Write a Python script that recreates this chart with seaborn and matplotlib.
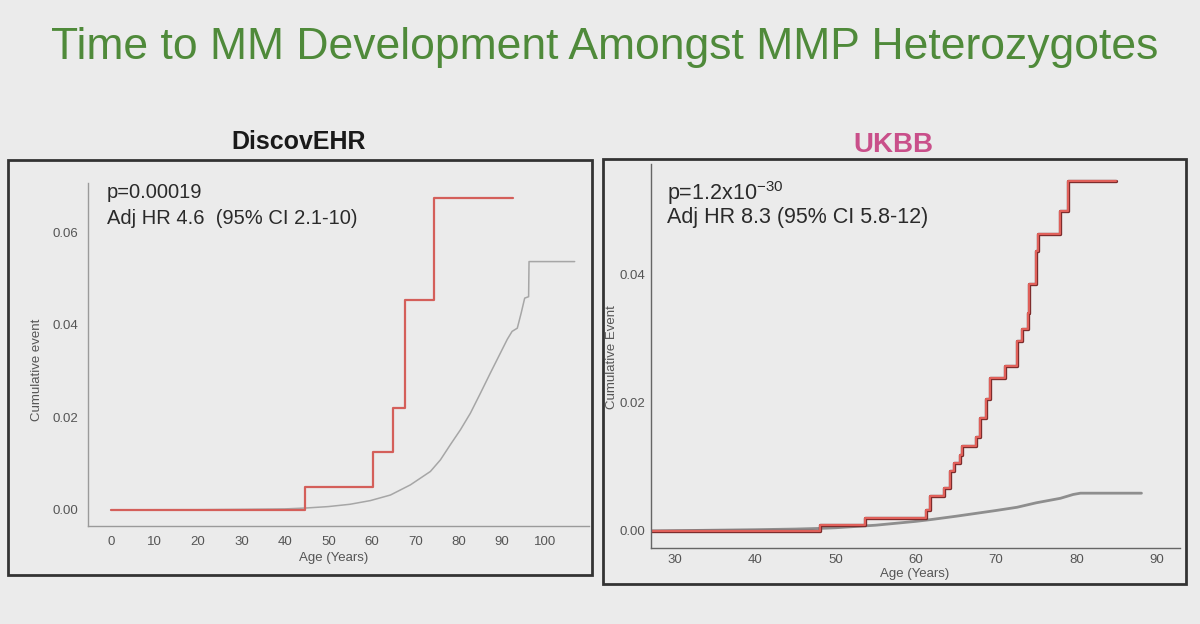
import numpy as np
import pandas as pd
import matplotlib
matplotlib.use("Agg")
import matplotlib.pyplot as plt
import matplotlib.patheffects as pe
from matplotlib.patches import Rectangle
import seaborn as sns

# DiscovEHR panel: heterozygotes (red steps) vs non-carriers (gray)
dis_het_age = [0, 44.7, 60.3, 65.0, 67.7, 74.3, 92.6]
dis_het_cum = [0, 0.0050, 0.0126, 0.0221, 0.0453, 0.0675, 0.0675]
dis_ref_age = [0, 20, 30, 40, 45, 50, 55, 59.7, 64.3, 68.9, 73.5, 75.8, 78.1, 80.4, 82.7,
               85.0, 87.3, 89.6, 91.2, 92.3, 93.5, 94.4, 95.2, 96.1, 96.2, 106.7]
dis_ref_cum = [0, 0.00003, 0.0001, 0.0002, 0.0004, 0.0007, 0.0012, 0.0020, 0.0032, 0.0054,
               0.0083, 0.0108, 0.0141, 0.0173, 0.0209, 0.0252, 0.0296, 0.0339, 0.0369, 0.0386,
               0.0393, 0.0426, 0.0458, 0.0461, 0.0537, 0.0537]

# UKBB panel
uk_het_age = [27, 48.0, 53.7, 61.2, 61.8, 63.5, 64.3, 64.7, 65.5, 65.7, 67.5, 68.0, 68.7,
              69.2, 71.1, 72.6, 73.2, 74.0, 74.1, 75.0, 75.2, 78.0, 78.9, 84.9]
uk_het_cum = [0, 0.0009, 0.0020, 0.0032, 0.0055, 0.0067, 0.0093, 0.0106, 0.0119, 0.0133,
              0.0147, 0.0176, 0.0206, 0.0239, 0.0257, 0.0296, 0.0315, 0.0340, 0.0385, 0.0437,
              0.0463, 0.0500, 0.0547, 0.0547]
uk_ref_age = [27, 40, 45, 48, 50, 55, 60, 62, 65, 70, 72.6, 75, 78, 79.6, 80.5, 88.1]
uk_ref_cum = [0, 0.0002, 0.0003, 0.0004, 0.0005, 0.0009, 0.0015, 0.0018, 0.0023, 0.0032,
              0.0037, 0.0044, 0.0051, 0.0057, 0.0059, 0.0059]

dis_xticks = list(range(0, 101, 10))
dis_yticks = [0.00, 0.02, 0.04, 0.06]
uk_xticks = list(range(30, 91, 10))
uk_yticks = [0.00, 0.02, 0.04]

BG = "#ebebeb"
sns.set_theme(style="white")
plt.rcParams["font.family"] = ["Liberation Sans", "DejaVu Sans"]

W, H = 1200, 624
fig = plt.figure(figsize=(12, 6.24), dpi=100, facecolor=BG)


def px_axes(x0, y0, x1, y1):
    # pixel box (top-left origin) -> figure axes
    return fig.add_axes([x0 / W, 1 - y1 / H, (x1 - x0) / W, (y1 - y0) / H])


def style_axes(ax, spine_col, xticks, yticks, pad):
    ax.set_facecolor(BG)
    for s in ["top", "right"]:
        ax.spines[s].set_visible(False)
    for s in ["left", "bottom"]:
        ax.spines[s].set_color(spine_col)
        ax.spines[s].set_linewidth(1.0)
    ax.set_xticks(xticks)
    ax.set_yticks(yticks)
    ax.set_yticklabels([f"{v:.2f}" for v in yticks])
    ax.tick_params(axis="both", labelsize=9.5, colors="#555555", length=3, width=0.8,
                   direction="out", pad=pad)
    ax.grid(False)
    ax.set_xlabel("")
    ax.set_ylabel("")


# outer frames
fig.patches.append(Rectangle((8 / W, 1 - 575 / H), 584 / W, 415 / H, transform=fig.transFigure,
                             fill=False, edgecolor="#333333", linewidth=2))
fig.patches.append(Rectangle((603 / W, 1 - 584 / H), 583 / W, 425 / H, transform=fig.transFigure,
                             fill=False, edgecolor="#333333", linewidth=2))

# left panel
ax1 = px_axes(88, 183, 589, 526)
sns.lineplot(x=dis_ref_age, y=dis_ref_cum, ax=ax1, color="#a6a6a6", linewidth=1.1,
             estimator=None)
sns.lineplot(x=dis_het_age, y=dis_het_cum, ax=ax1, color="#d45f5a", linewidth=1.6,
             drawstyle="steps-post", estimator=None)
ax1.set_xlim(-5.3, 110)
ax1.set_ylim(-0.0035, 0.0707)
style_axes(ax1, "#9a9a9a", dis_xticks, dis_yticks, 4)
fig.text(107 / W, 1 - 193 / H, "p=0.00019", fontsize=14.5, color="#2a2a2a", va="center")
fig.text(107 / W, 1 - 218 / H, "Adj HR 4.6  (95% CI 2.1-10)", fontsize=14.5, color="#2a2a2a",
         va="center")
fig.text(37 / W, 1 - 370 / H, "Cumulative event", fontsize=9.5, color="#555555",
         rotation=90, ha="center", va="center")
fig.text(334 / W, 1 - 558 / H, "Age (Years)", fontsize=9.5, color="#555555",
         ha="center", va="center")
fig.text(299 / W, 1 - 142 / H, "DiscovEHR", fontsize=18, fontweight="bold", color="#1a1a1a",
         ha="center", va="center")

# right panel
ax2 = px_axes(651, 164, 1180, 548)
sns.lineplot(x=uk_ref_age, y=uk_ref_cum, ax=ax2, color="#8e8e8e", linewidth=2.0,
             estimator=None)
sns.lineplot(x=uk_het_age, y=uk_het_cum, ax=ax2, color="#e0605a", linewidth=1.5,
             drawstyle="steps-post", estimator=None,
             path_effects=[pe.Stroke(linewidth=2.4, foreground="#7a2a2a"), pe.Normal()])
ax2.set_xlim(27, 92.9)
ax2.set_ylim(-0.00266, 0.0573)
style_axes(ax2, "#666666", uk_xticks, uk_yticks, 1.5)
fig.text(667 / W, 1 - 193 / H, r"p=1.2x10$^{\mathregular{-30}}$", fontsize=15.5,
         color="#2a2a2a", va="center")
fig.text(667 / W, 1 - 218 / H, "Adj HR 8.3 (95% CI 5.8-12)", fontsize=15.5, color="#2a2a2a",
         va="center")
fig.text(612 / W, 1 - 357 / H, "Cumulative Event", fontsize=9.5, color="#555555",
         rotation=90, ha="center", va="center")
fig.text(915 / W, 1 - 574 / H, "Age (Years)", fontsize=9.5, color="#555555",
         ha="center", va="center")
fig.text(893 / W, 1 - 145 / H, "UKBB", fontsize=20, fontweight="bold", color="#c94f8a",
         ha="center", va="center")

# main title
fig.text(605 / W, 1 - 47 / H, "Time to MM Development Amongst MMP Heterozygotes",
         fontsize=32, color="#4f8a3a", ha="center", va="center")

fig.savefig("out.png", dpi=100, facecolor=BG)
